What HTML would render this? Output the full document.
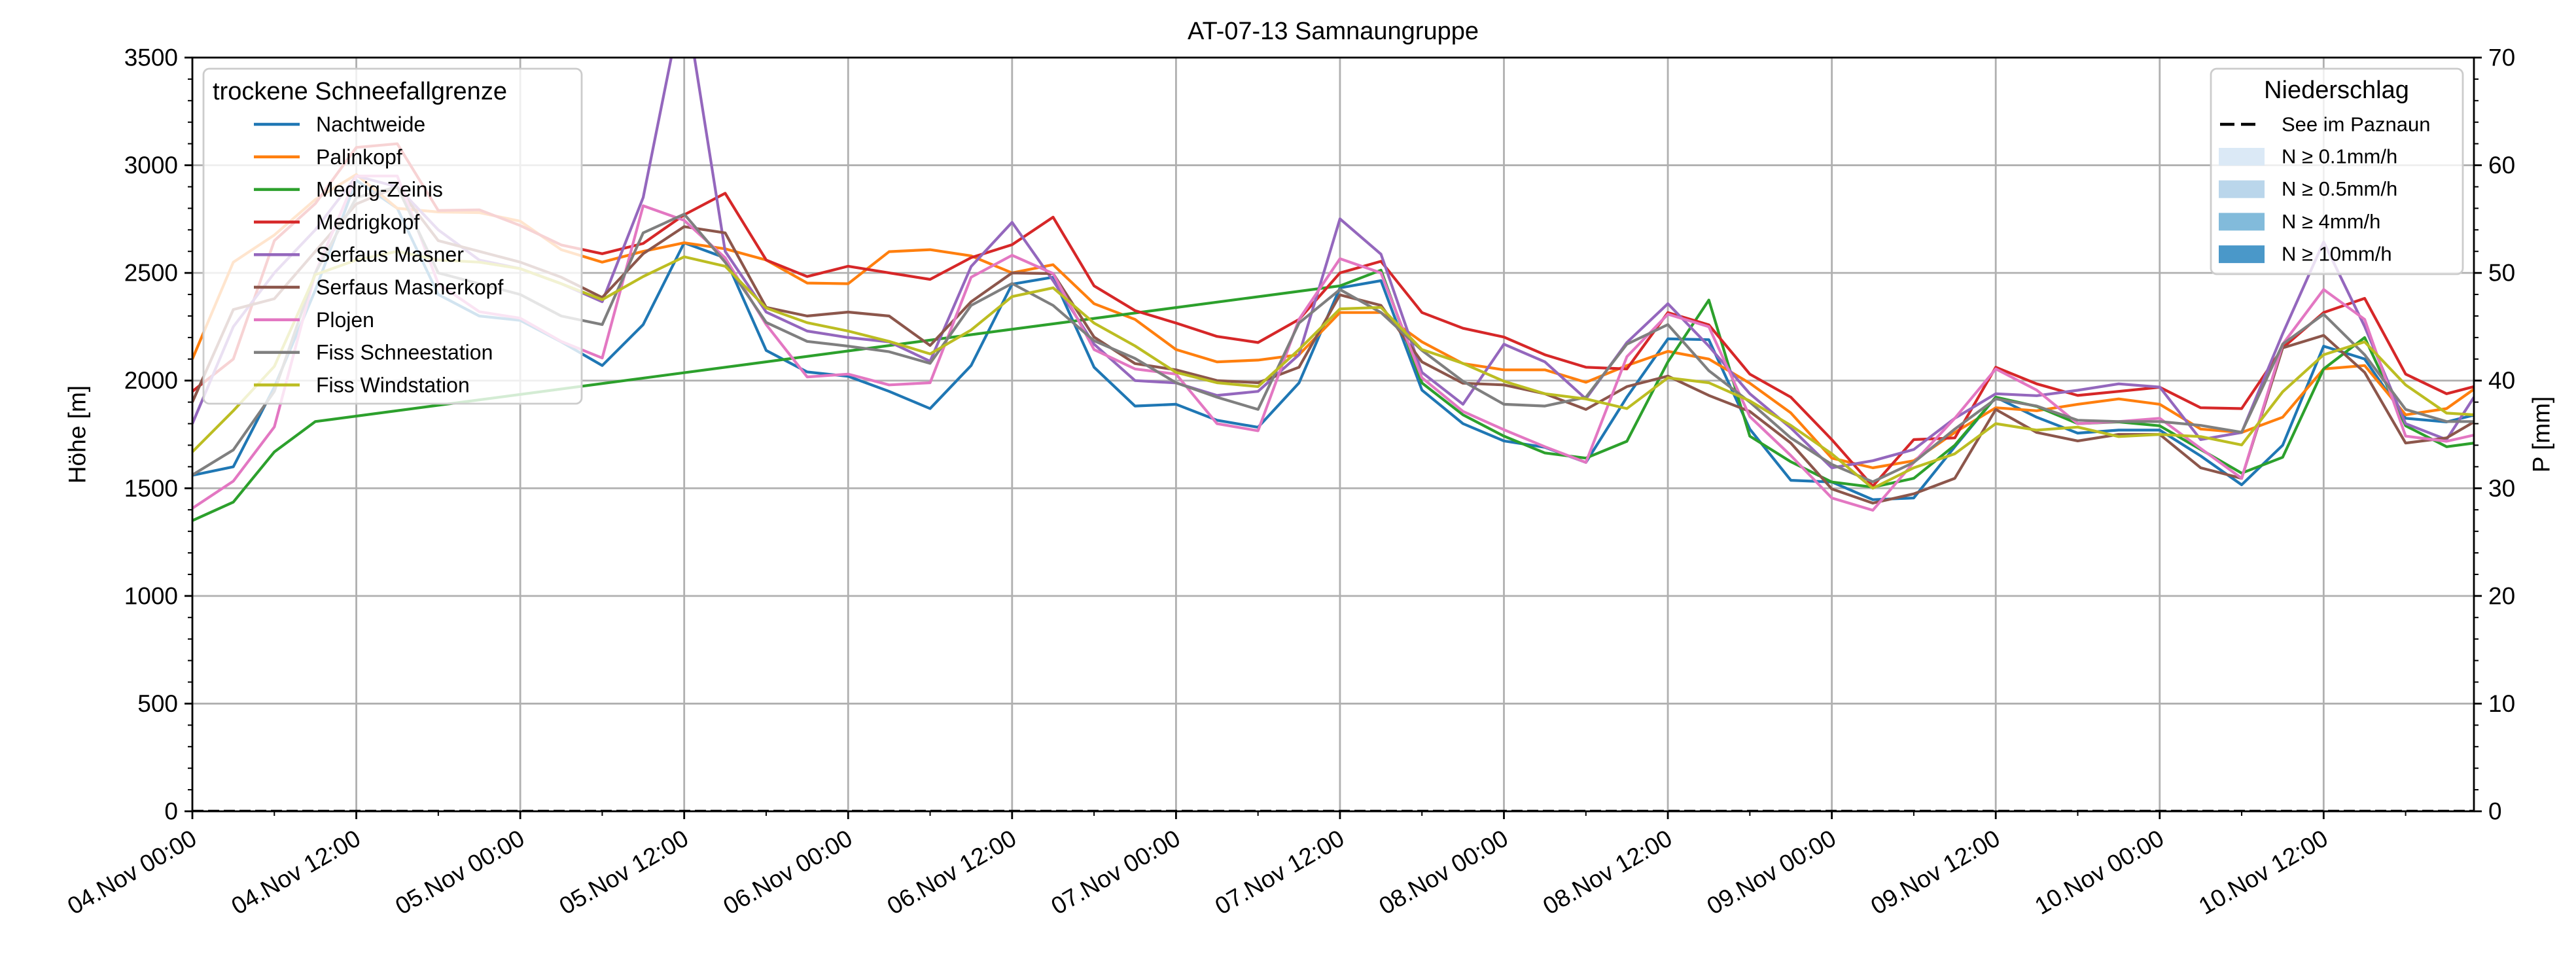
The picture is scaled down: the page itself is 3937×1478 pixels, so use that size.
<!DOCTYPE html>
<html><head><meta charset="utf-8"><style>
html,body{margin:0;padding:0;background:#fff;}
svg{display:block;font-family:"Liberation Sans","DejaVu Sans",sans-serif;}
</style></head><body>
<svg id="chart" width="3937" height="1478" viewBox="0 0 3937 1478" xmlns="http://www.w3.org/2000/svg">
<defs><clipPath id="plotclip"><rect x="294" y="88" width="3487" height="1152"/></clipPath></defs>
<rect x="0" y="0" width="3937" height="1478" fill="#fff"/>
<g id="grid"></g>
<g id="series" clip-path="url(#plotclip)"></g>
<g id="axes"></g>
<g id="legends"></g>
</svg>
<script>
const hours = [0,3,6,9,12,15,18,21,24,27,30,33,36,39,42,45,48,51,54,57,60,63,66,69,72,75,78,81,84,87,90,93,96,99,102,105,108,111,114,117,120,123,126,129,132,135,138,141,144,147,150,153,156,159,162,165,167];
const seriesNames = ["Nachtweide","Palinkopf","Medrig-Zeinis","Medrigkopf","Serfaus Masner","Serfaus Masnerkopf","Plojen","Fiss Schneestation","Fiss Windstation"];
const seriesColors = ["#1f77b4","#ff7f0e","#2ca02c","#d62728","#9467bd","#8c564b","#e377c2","#7f7f7f","#bcbd22"];
const nachtweide = [1560,1600,1970,2420,2930,2800,2400,2300,2280,2180,2070,2260,2640,2570,2140,2040,2020,1950,1870,2070,2448,2480,2062,1882,1890,1816,1783,1989,2431,2464,1956,1800,1720,1690,1620,1923,2194,2190,1775,1537,1529,1447,1455,1693,1923,1830,1756,1770,1770,1650,1516,1700,2160,2100,1825,1808,1840];
const palinkopf = [2100,2550,2676,2841,2957,2800,2783,2780,2740,2608,2550,2600,2640,2612,2560,2453,2450,2599,2608,2579,2500,2538,2357,2284,2144,2087,2095,2120,2316,2316,2180,2079,2050,2050,1992,2070,2136,2100,1988,1850,1640,1595,1628,1759,1874,1860,1890,1915,1890,1775,1759,1830,2054,2070,1841,1870,1960];
const medrigZeinis = [1350,1436,1669,1810,null,null,null,null,null,null,null,null,null,null,null,null,null,null,null,null,null,null,null,null,null,null,null,null,2440,2513,1989,1841,1742,1664,1640,1718,2087,2374,1742,1623,1529,1505,1546,1700,1923,1880,1800,1808,1790,1680,1570,1644,2054,2200,1790,1693,1710];
const medrigkopf = [1950,2100,2650,2822,3083,3100,2790,2793,2720,2630,2589,2637,2770,2870,2560,2483,2531,2500,2470,2571,2631,2759,2440,2325,2267,2205,2177,2284,2500,2554,2316,2243,2202,2120,2062,2054,2316,2259,2030,1923,1726,1510,1726,1734,2062,1985,1931,1950,1969,1874,1870,2152,2316,2382,2030,1939,1972];
const serfausMasner = [1800,2250,2500,2700,2950,2900,2700,2560,2520,2450,2366,2850,3800,2600,2318,2230,2200,2180,2090,2530,2735,2464,2169,2000,1989,1931,1950,2120,2751,2587,2038,1890,2169,2087,1915,2177,2357,2160,1939,1780,1595,1628,1680,1825,1939,1930,1955,1985,1970,1726,1759,2218,2644,2251,1800,1726,1923];
const serfausMasnerkopf = [1900,2330,2380,2600,2820,2900,2650,2600,2550,2480,2386,2589,2715,2686,2340,2300,2318,2300,2163,2366,2500,2497,2202,2079,2050,2000,1990,2062,2398,2349,2087,1988,1980,1939,1866,1972,2021,1931,1857,1710,1497,1431,1474,1546,1866,1759,1720,1750,1750,1595,1546,2152,2210,2038,1710,1734,1808];
const plojen = [1407,1533,1785,2500,2950,2950,2450,2320,2290,2182,2105,2812,2744,2570,2260,2017,2030,1980,1990,2480,2582,2497,2144,2054,2030,1800,1767,2284,2566,2500,2013,1857,1772,1693,1620,2111,2308,2250,1833,1652,1455,1398,1620,1825,2054,1956,1800,1810,1825,1685,1546,2169,2423,2284,1742,1718,1747];
const fissSchneestation = [1562,1678,1950,2500,2850,2900,2500,2450,2400,2300,2260,2686,2773,2550,2270,2182,2160,2134,2080,2349,2451,2349,2185,2103,1990,1923,1866,2267,2423,2316,2140,1997,1890,1882,1923,2169,2260,2046,1900,1734,1611,1530,1620,1775,1915,1882,1816,1810,1810,1792,1760,2169,2308,2120,1866,1810,1810];
const fissWindstation = [1669,1860,2066,2492,2560,2600,2560,2550,2520,2450,2376,2483,2575,2531,2337,2269,2230,2182,2124,2235,2390,2431,2267,2161,2038,1990,1972,2144,2333,2340,2144,2080,1997,1939,1915,1870,2013,1990,1906,1792,1660,1500,1595,1660,1800,1770,1784,1740,1750,1740,1701,1948,2120,2180,1980,1849,1841];
const precipHours = [0,167];
const precipValues = [0,0];
const xTickHours = [0,12,24,36,48,60,72,84,96,108,120,132,144,156];
const xTickLabels = ["04.Nov 00:00","04.Nov 12:00","05.Nov 00:00","05.Nov 12:00","06.Nov 00:00","06.Nov 12:00","07.Nov 00:00","07.Nov 12:00","08.Nov 00:00","08.Nov 12:00","09.Nov 00:00","09.Nov 12:00","10.Nov 00:00","10.Nov 12:00"];
const yTicks = [0,500,1000,1500,2000,2500,3000,3500];
const pTicks = [0,10,20,30,40,50,60,70];
const precipLegendLabels = ["N \u2265 0.1mm/h","N \u2265 0.5mm/h","N \u2265 4mm/h","N \u2265 10mm/h"];
const precipLegendColors = ["#dbe9f6","#bad6eb","#82bbdb","#4a98c9"];

const allSeries = [nachtweide,palinkopf,medrigZeinis,medrigkopf,serfausMasner,serfausMasnerkopf,plojen,fissSchneestation,fissWindstation];
const L=294,R=3781,T=88,B=1240;
const xMax=167, yMax=3500, pMax=70;
function xs(h){return L+(R-L)*h/xMax;}
function ys(v){return B-(B-T)*v/yMax;}
function yp(v){return B-(B-T)*v/pMax;}
const NS="http://www.w3.org/2000/svg";
function mk(tag,attrs,parent){const e=document.createElementNS(NS,tag);for(const k in attrs)e.setAttribute(k,attrs[k]);parent.appendChild(e);return e;}
const grid=document.getElementById('grid'),series=document.getElementById('series'),axes=document.getElementById('axes'),legends=document.getElementById('legends');

xTickHours.forEach(h=>{const l=mk('line',{x1:xs(h),x2:xs(h),y1:T,y2:B,stroke:'#b0b0b0','stroke-width':2.8},grid);

});
yTicks.forEach(v=>{const l=mk('line',{x1:L,x2:R,y1:ys(v),y2:ys(v),stroke:'#b0b0b0','stroke-width':2.8},grid);

});

allSeries.forEach((arr,i)=>{
  const pts=[];arr.forEach((v,j)=>{if(v!==null)pts.push(xs(hours[j]).toFixed(1)+','+ys(v).toFixed(1));});
  const p=mk('polyline',{points:pts.join(' '),fill:'none',stroke:seriesColors[i],'stroke-width':4.2,'stroke-linejoin':'round'},series);
  
  
});
{const pts=precipHours.map((h,j)=>xs(h)+','+yp(precipValues[j])).join(' ');
const p=mk('polyline',{points:pts,fill:'none',stroke:'#000','stroke-width':4.5,'stroke-dasharray':'17,7'},series);

}

const fr=mk('rect',{x:L,y:T,width:R-L,height:B-T,fill:'none',stroke:'#000','stroke-width':2.8},axes);



for(let v=0;v<=yMax;v+=100){const major=v%500===0;mk('line',{x1:L,x2:L-(major?12:7),y1:ys(v),y2:ys(v),stroke:'#000','stroke-width':major?2.8:2},axes);}
yTicks.forEach(v=>{const t=mk('text',{x:L-22,y:ys(v),'text-anchor':'end','dominant-baseline':'central','font-size':37},axes);t.textContent=v;

});
for(let v=0;v<=pMax;v+=2){const major=v%10===0;mk('line',{x1:R,x2:R+(major?12:7),y1:yp(v),y2:yp(v),stroke:'#000','stroke-width':major?2.8:2},axes);}
pTicks.forEach(v=>{const t=mk('text',{x:R+22,y:yp(v),'text-anchor':'start','dominant-baseline':'central','font-size':37},axes);t.textContent=v;

});
for(let h=0;h<=xMax;h+=6){const major=h%12===0;mk('line',{x1:xs(h),x2:xs(h),y1:B,y2:B+(major?12:7),stroke:'#000','stroke-width':major?2.8:2},axes);}
xTickHours.forEach((h,i)=>{const x=xs(h)-4,y=1266;const t=mk('text',{x:x,y:y,'text-anchor':'end','dominant-baseline':'hanging','font-size':37,transform:'rotate(-30 '+x+' '+y+')'},axes);t.textContent=xTickLabels[i];

});

{const t=mk('text',{x:(L+R)/2,y:60,'text-anchor':'middle','font-size':38},axes);t.textContent='AT-07-13 Samnaungruppe';

}
{const t=mk('text',{x:118,y:(T+B)/2,'text-anchor':'middle','dominant-baseline':'central','font-size':37,transform:'rotate(-90 118 '+(T+B)/2+')'},axes);t.textContent='Höhe [m]';

}
{const t=mk('text',{x:3884,y:(T+B)/2,'text-anchor':'middle','dominant-baseline':'central','font-size':37,transform:'rotate(-90 3884 '+(T+B)/2+')'},axes);t.textContent='P [mm]';

}

{const g=mk('g',{},legends);


mk('rect',{x:311,y:105,width:578,height:512,rx:9,fill:'#fff','fill-opacity':0.8,stroke:'#cccccc','stroke-width':2.8},g);
const tt=mk('text',{x:325,y:152,'font-size':38},g);tt.textContent='trockene Schneefallgrenze';
seriesNames.forEach((n,i)=>{const y=190+i*49.8;
const e=mk('g',{},g);


mk('line',{x1:388,x2:458,y1:y,y2:y,stroke:seriesColors[i],'stroke-width':4.5},e);
const t=mk('text',{x:483,y:y,'dominant-baseline':'central','font-size':32},e);t.textContent=n;});
}
{const g=mk('g',{},legends);


mk('rect',{x:3379,y:105,width:385,height:314,rx:9,fill:'#fff','fill-opacity':0.8,stroke:'#cccccc','stroke-width':2.8},g);
const tt=mk('text',{x:3571,y:150,'text-anchor':'middle','font-size':38},g);tt.textContent='Niederschlag';
const e0=mk('g',{},g);


mk('line',{x1:3393,x2:3451,y1:190,y2:190,stroke:'#000','stroke-width':4.5,'stroke-dasharray':'22,10'},e0);
const t0=mk('text',{x:3487,y:190,'dominant-baseline':'central','font-size':31},e0);t0.textContent='See im Paznaun';
precipLegendLabels.forEach((lab,i)=>{const y=239+i*49.7;
const e=mk('g',{},g);


mk('rect',{x:3391,y:y-13,width:70,height:27,fill:precipLegendColors[i]},e);
const t=mk('text',{x:3487,y:y,'dominant-baseline':'central','font-size':31},e);t.textContent=lab;});
}
</script>
</body></html>
